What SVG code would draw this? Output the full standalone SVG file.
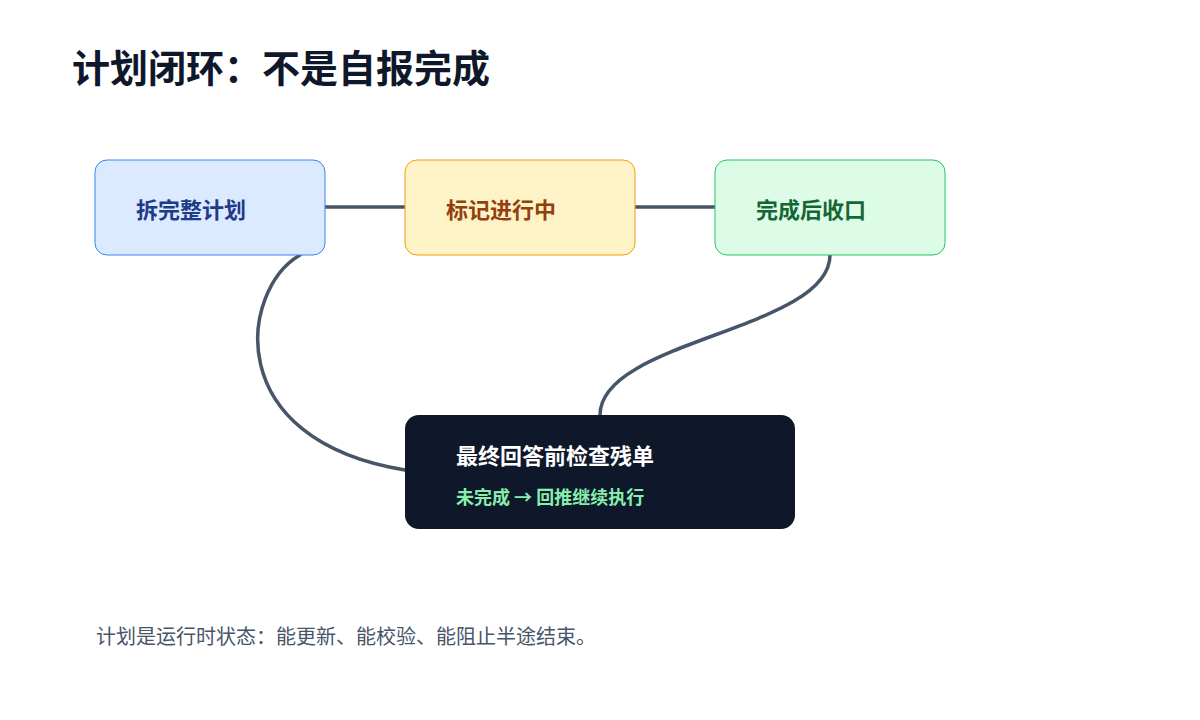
<svg xmlns="http://www.w3.org/2000/svg" width="1200" height="720" viewBox="0 0 1200 720">
<style>
text{font-family:"Noto Sans CJK SC","Noto Sans",sans-serif}
.b{font-weight:700;font-size:22px}
.c{fill:none;stroke:#475569;stroke-width:3.5;stroke-linecap:round}
</style>
<rect width="1200" height="720" fill="#fff"/>
<text x="72" y="82" font-size="38" font-weight="700" fill="#0f172a">计划闭环：不是自报完成</text>
<g id="connectors">
<path class="c" d="M325,207H405"/>
<path class="c" d="M635,207H715"/>
<path class="c" d="M300,255C240,290 220,440 405,470"/>
<path class="c" d="M830,255C830,330 600,340 600,415"/>
</g>
<g id="n1"><rect x="95" y="160" width="230" height="95" rx="12" fill="#dbeafe" stroke="#3b82f6"/><text class="b" x="136" y="218" fill="#1e3a8a">拆完整计划</text></g>
<g id="n2"><rect x="405" y="160" width="230" height="95" rx="12" fill="#fef3c7" stroke="#f59e0b"/><text class="b" x="446" y="218" fill="#92400e">标记进行中</text></g>
<g id="n3"><rect x="715" y="160" width="230" height="95" rx="12" fill="#dcfce7" stroke="#22c55e"/><text class="b" x="756" y="218" fill="#166534">完成后收口</text></g>
<g id="n4"><rect x="405" y="415" width="390" height="114" rx="14" fill="#0f172a"/><text class="b" x="456" y="464" fill="#fff">最终回答前检查残单</text><text x="456" y="504" font-size="18" font-weight="700" fill="#86efac">未完成 → 回推继续执行</text></g>
<text x="96" y="644" font-size="20" fill="#475569">计划是运行时状态：能更新、能校验、能阻止半途结束。</text>
</svg>
